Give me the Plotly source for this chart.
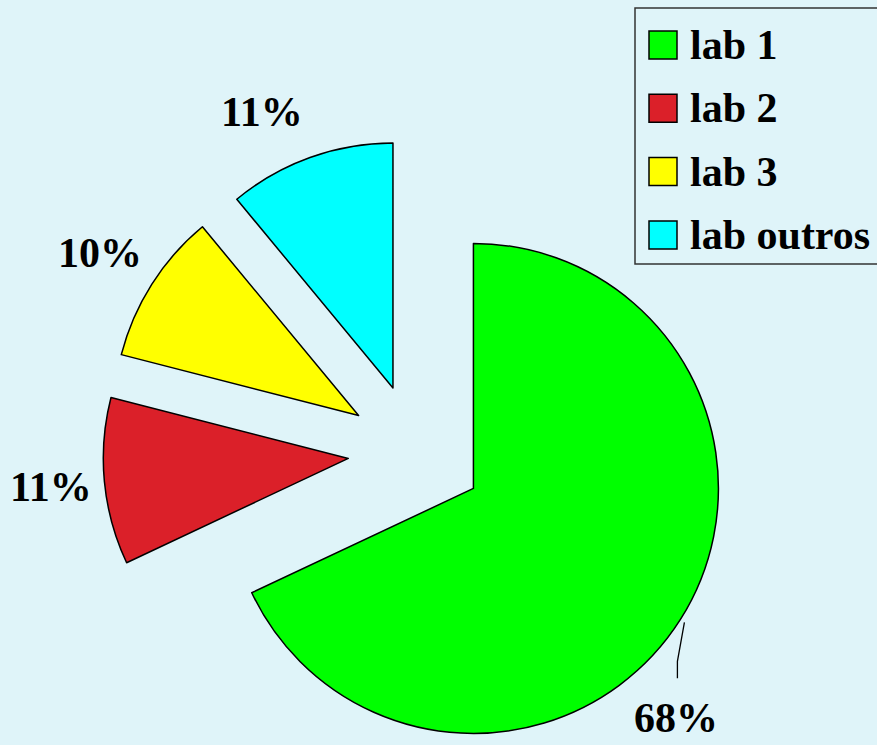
import math
import plotly.graph_objects as go

# ---- data -------------------------------------------------------------
labels = ["lab 1", "lab 2", "lab 3", "lab outros"]
values = [68, 11, 10, 11]
colors = ["#00FF00", "#DB2029", "#FFFF00", "#00FFFF"]

# ---- layout constants (pixels) ---------------------------------------
W, H = 877, 745
BG = "#DFF4F9"
FONT = "Liberation Serif"
PIE_CX, PIE_CY = 416, 452      # centre of the pie before exploding
PIE_R = 245                    # pie radius
EXPLODE = 68                   # every slice is pushed out along its bisector
LABEL_R = 1.24                 # label distance from a slice apex, in radii
LABEL_NUDGE = [(0, 0), (5, 0), (-2, 0), (-28, 10)]
LEADER = [(-7, 39), (0, 17)]   # leader segments for the first slice label
LEADER_GAP = 40                # label centre below the leader end

LEG_X0, LEG_Y0, LEG_Y1 = 635, 8, 264
LEG_SYM_X, LEG_SYM = 649, 28
LEG_ROW0, LEG_ROW_STEP = 45, 63.3
LEG_TEXT_X = 688


def px_x(x):
    return x / W


def px_y(y):
    return 1 - y / H


def unit(deg):
    a = math.radians(deg)
    return math.sin(a), -math.cos(a)


total = sum(values)
mids = []
acc = 0.0
for v in values:
    span = 360.0 * v / total
    mids.append(acc + span / 2)
    acc += span

fig = go.Figure()

# one pie per slice, each shifted along its bisector; the other slices
# in that pie are left transparent
apexes = []
for i, (lab, v) in enumerate(zip(labels, values)):
    ux, uy = unit(mids[i])
    ax, ay = PIE_CX + EXPLODE * ux, PIE_CY + EXPLODE * uy
    apexes.append((ax, ay))
    fig.add_trace(go.Pie(
        labels=labels,
        values=values,
        sort=False,
        direction="clockwise",
        rotation=0,
        textinfo="none",
        showlegend=False,
        hoverinfo="label+percent",
        marker=dict(
            colors=[c if j == i else "rgba(0,0,0,0)" for j, c in enumerate(colors)],
            line=dict(color="black",
                      width=[1.5 if j == i else 0 for j in range(len(values))]),
        ),
        domain=dict(
            x=[px_x(ax - PIE_R), px_x(ax + PIE_R)],
            y=[px_y(ay + PIE_R), px_y(ay - PIE_R)],
        ),
    ))

annotations = []
shapes = []

# percentage labels
for i, v in enumerate(values):
    ux, uy = unit(mids[i])
    ax, ay = apexes[i]
    text = f"{round(100 * v / total)}%"
    if i == 0:
        sx, sy = ax + 1.02 * PIE_R * ux, ay + 1.02 * PIE_R * uy
        pts = [(sx, sy)]
        for dx, dy in LEADER:
            pts.append((pts[-1][0] + dx, pts[-1][1] + dy))
        path = "M " + " L ".join(f"{px_x(x)},{px_y(y)}" for x, y in pts)
        shapes.append(dict(type="path", xref="paper", yref="paper", path=path,
                           line=dict(color="black", width=1.3)))
        lx, ly = pts[-1][0] - 1, pts[-1][1] + LEADER_GAP
    else:
        lx = ax + LABEL_R * PIE_R * ux + LABEL_NUDGE[i][0]
        ly = ay + LABEL_R * PIE_R * uy + LABEL_NUDGE[i][1]
    annotations.append(dict(
        x=px_x(lx), y=px_y(ly), xref="paper", yref="paper",
        text=text, showarrow=False, xanchor="center", yanchor="middle",
        font=dict(family=FONT, size=42, color="black", weight="bold"),
    ))

# legend box
shapes.append(dict(type="rect", xref="paper", yref="paper",
                   x0=px_x(LEG_X0), x1=px_x(W + 10),
                   y0=px_y(LEG_Y1), y1=px_y(LEG_Y0),
                   line=dict(color="#333333", width=1.5), fillcolor=BG))
for i, (lab, c) in enumerate(zip(labels, colors)):
    cy = LEG_ROW0 + i * LEG_ROW_STEP
    shapes.append(dict(type="rect", xref="paper", yref="paper",
                       x0=px_x(LEG_SYM_X), x1=px_x(LEG_SYM_X + LEG_SYM),
                       y0=px_y(cy + LEG_SYM / 2), y1=px_y(cy - LEG_SYM / 2),
                       line=dict(color="black", width=1.5), fillcolor=c))
    annotations.append(dict(
        x=px_x(LEG_TEXT_X), y=px_y(cy), xref="paper", yref="paper",
        text=lab, showarrow=False, xanchor="left", yanchor="middle",
        font=dict(family=FONT, size=42, color="black", weight="bold"),
    ))

fig.update_layout(
    width=W, height=H,
    margin=dict(l=0, r=0, t=0, b=0, pad=0),
    paper_bgcolor=BG, plot_bgcolor=BG,
    showlegend=False,
    annotations=annotations,
    shapes=shapes,
)

fig.write_html("out.html")
